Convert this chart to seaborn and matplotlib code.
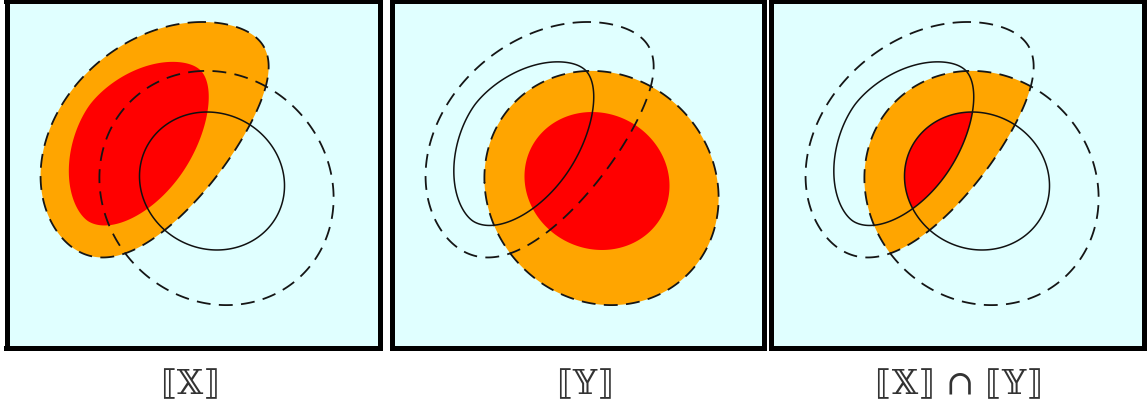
import numpy as np
import matplotlib
matplotlib.use("Agg")
import matplotlib.pyplot as plt
import seaborn as sns

# ---- shape parameters (panel-local pixel coordinates, y pointing down) ----
# Fuzzy set X (rounded "D" shape): local frame origin x, origin y, frame angle (deg),
# ellipse centre u, centre v, semi-axis a, semi-axis b, tilt (deg), exponent,
# flat side offset, flat side centre u, flat side curvature, cut scale, rounding
x_outer = [189.0, 174.0, 133.2, -8.0, 30.0, 143.0, 113.0, 8.0, 2.0,
           -23.5, 20.0, 0.0013, 120.0, 7.0]
x_core = [161.0, 161.5, 127.0, -3.0, 22.0, 95.0, 69.0, 0.0, 1.8,
          -24.5, 5.0, 0.0027, 70.0, 7.0]
# Fuzzy set Y (ellipses): centre x, centre y, angle (deg), semi-axis a, semi-axis b
y_outer = [216.5, 188.0, 45.0, 122.0, 112.0]
y_core = [212.0, 181.0, 27.0, 73.7, 67.7]

labels = ["\u27e6\U0001D54F\u27e7", "\u27e6\U0001D550\u27e7",
          "\u27e6\U0001D54F\u27e7 \u2229 \u27e6\U0001D550\u27e7"]
label_x = [190, 585, 959]

sns.set_theme(style="white")
plt.rcParams["font.family"] = ["DejaVu Serif", "DejaVu Sans"]
plt.rcParams["lines.scale_dashes"] = False

W, H = 1148, 415
fig = plt.figure(figsize=(W / 100, H / 100), dpi=100)

xs = np.linspace(0, 390, 781)
ys = np.linspace(0, 355, 711)
GX, GY = np.meshgrid(xs, ys)


def rot(dx, dy, ang):
    t = np.deg2rad(ang)
    return dx * np.cos(t) + dy * np.sin(t), -dx * np.sin(t) + dy * np.cos(t)


def d_shape(ox, oy, theta, uc, vc, a, b, tilt, p, f0, fu, fc, L, k):
    u, v = rot(GX - ox, GY - oy, theta)
    up, vp = rot(u - uc, v - vc, tilt)
    e = (np.abs(up / a) ** p + np.abs(vp / b) ** p) ** (1.0 / p)
    f = f0 + fc * (u - fu) ** 2
    h = np.clip(1.0 + (f - v) / L, 0.0, None)
    return (e ** k + h ** k) ** (1.0 / k)


def ellipse(cx, cy, ang, a, b):
    u, v = rot(GX - cx, GY - cy, ang)
    return np.sqrt((u / a) ** 2 + (v / b) ** 2)


gXo = d_shape(*x_outer)
gXc = d_shape(*x_core)
gYo = ellipse(*y_outer)
gYc = ellipse(*y_core)

BG = "#e0ffff"
ORANGE = "#ffa500"
RED = "#ff0000"
DASH = (0, (10, 6))

origins = [0, 385, 765]
x0, x1 = 6.5, 379.5
y0, y1 = 1.0, 348.0


def fill(ax, g, color):
    ax.contourf(GX, GY, g, levels=[-1, 1], colors=[color], antialiased=True)


def outline(ax, g, dashed):
    if dashed:
        cs = ax.contour(GX, GY, g, levels=[1], colors=["#151515"], linewidths=1.3)
        cs.set_linestyle(DASH)
    else:
        ax.contour(GX, GY, g, levels=[1], colors=["#111111"], linewidths=1.1)


axes = []
for o in origins:
    ax = fig.add_axes([(o + x0) / W, (H - y1) / H, (x1 - x0) / W, (y1 - y0) / H])
    ax.set_facecolor(BG)
    ax.set_xlim(x0, x1)
    ax.set_ylim(y1, y0)
    ax.set_xticks([])
    ax.set_yticks([])
    for s in ax.spines.values():
        s.set_visible(True)
        s.set_color("black")
        s.set_linewidth(3.6)
    axes.append(ax)

# panel 1: X filled, Y outlined
ax = axes[0]
fill(ax, gXo, ORANGE)
fill(ax, gXc, RED)
outline(ax, gXo, True)
outline(ax, gYo, True)
outline(ax, gYc, False)

# panel 2: X outlined underneath, Y filled
ax = axes[1]
outline(ax, gXo, True)
outline(ax, gXc, False)
fill(ax, gYo, ORANGE)
fill(ax, gYc, RED)
outline(ax, gYo, True)

# panel 3: intersection
ax = axes[2]
fill(ax, np.maximum(gXo, gYo), ORANGE)
fill(ax, np.maximum(gXc, gYc), RED)
outline(ax, gXo, True)
outline(ax, gXc, False)
outline(ax, gYo, True)
outline(ax, gYc, False)

for lx, lab in zip(label_x, labels):
    fig.text(lx / W, 1 - 385 / H, lab, ha="center", va="center",
             fontsize=24.5, color="#333333")

fig.savefig("out.png", dpi=100)
